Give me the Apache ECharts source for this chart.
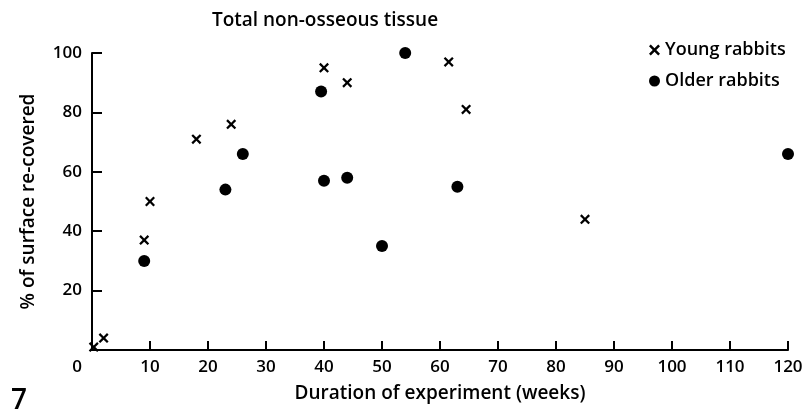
<!DOCTYPE html>
<html lang="en">
<head>
    <meta charset="UTF-8">
    <title>Total non-osseous tissue</title>
    <script src="https://cdn.jsdelivr.net/npm/echarts@6/dist/echarts.min.js"></script>
    <style>
        html, body { margin: 0; padding: 0; background: #fff; }
        #main { width: 809px; height: 412px; }
    </style>
</head>
<body>
<div id="main"></div>
<script type="text/javascript">
    // weeks, % of surface re-covered
    var youngRabbits = [
        [0.3, 1], [2, 4], [9, 37], [10, 50], [18, 71], [24, 76],
        [40, 95], [44, 90], [61.5, 97], [64.5, 81], [85, 44]
    ];
    var olderRabbits = [
        [9, 30], [23, 54], [26, 66], [39.5, 87], [40, 57], [44, 58],
        [50, 35], [54, 100], [63, 55], [120, 66]
    ];
    var xTicks = [0, 10, 20, 30, 40, 50, 60, 70, 80, 90, 100, 110, 120];
    var yTicks = [20, 40, 60, 80, 100];

    var font = 'Open Sans';
    var fw = 600;
    var crossPath = 'path://M0,1.6L1.6,0L5,3.4L8.4,0L10,1.6L6.6,5L10,8.4L8.4,10L5,6.6L1.6,10L0,8.4L3.4,5Z';

    var hidden = { type: 'value', show: false, splitLine: { show: false } };
    // inward ticks: split lines of thin strip grids along each axis
    var tickLine = { show: true, lineStyle: { color: '#000', width: 2, type: 'solid' } };

    var myChart = echarts.init(document.getElementById('main'));
    myChart.setOption({
        backgroundColor: '#fff',
        animation: false,
        textStyle: { fontFamily: font, color: '#000' },
        title: [
            {
                text: 'Total non-osseous tissue',
                left: 320,
                textAlign: 'center',
                top: 6,
                textStyle: { fontFamily: font, fontSize: 19, fontWeight: fw, color: '#000' }
            },
            {
                text: '7',
                left: 6,
                top: 382,
                textStyle: { fontFamily: font, fontSize: 28, fontWeight: fw, color: '#000' }
            }
        ],
        legend: {
            orient: 'vertical',
            left: 644,
            top: 36,
            itemGap: 13,
            itemWidth: 11,
            itemHeight: 11,
            textStyle: { fontFamily: font, fontSize: 18, fontWeight: fw, color: '#000' },
            data: ['Young rabbits', 'Older rabbits']
        },
        grid: [
            { left: 92, right: 21, top: 53, bottom: 62 },
            { left: 92, right: 21, top: 341, bottom: 62 },
            { left: 92, width: 10, top: 53, bottom: 62 }
        ],
        xAxis: [
            {
                type: 'value',
                gridIndex: 0,
                min: 0,
                max: 120,
                interval: 10,
                name: 'Duration of experiment (weeks)',
                nameLocation: 'middle',
                nameGap: 34,
                nameTextStyle: { fontFamily: font, fontSize: 19, fontWeight: fw, color: '#000' },
                axisLine: { show: true, onZero: false, lineStyle: { color: '#000', width: 2 } },
                axisTick: { show: false },
                axisLabel: {
                    show: true,
                    margin: 9,
                    fontFamily: font, fontSize: 17, fontWeight: fw, color: '#000',
                    formatter: function (v) {
                        if (v === 0) return '{z|0}';
                        return xTicks.indexOf(v) >= 0 ? String(v) : '';
                    },
                    rich: { z: { padding: [0, 30, 0, 0], fontFamily: font, fontSize: 17, fontWeight: fw, color: '#000' } }
                },
                splitLine: { show: false }
            },
            {
                type: 'value', gridIndex: 1, min: 0, max: 120, interval: 10,
                axisLine: { show: false }, axisTick: { show: false }, axisLabel: { show: false },
                splitLine: tickLine
            },
            echarts.util.extend({ gridIndex: 2 }, hidden)
        ],
        yAxis: [
            {
                type: 'value',
                gridIndex: 0,
                min: 0,
                max: 100,
                interval: 20,
                name: '% of surface re-covered',
                nameLocation: 'middle',
                nameGap: 54,
                nameRotate: 90,
                nameTextStyle: { fontFamily: font, fontSize: 19, fontWeight: fw, color: '#000' },
                axisLine: { show: true, onZero: false, lineStyle: { color: '#000', width: 2 } },
                axisTick: { show: false },
                axisLabel: {
                    margin: 10,
                    showMinLabel: false,
                    fontFamily: font, fontSize: 17, fontWeight: fw, color: '#000',
                    formatter: function (v) { return yTicks.indexOf(v) >= 0 ? String(v) : ''; }
                },
                splitLine: { show: false }
            },
            echarts.util.extend({ gridIndex: 1 }, hidden),
            {
                type: 'value', gridIndex: 2, min: 0, max: 100, interval: 20,
                axisLine: { show: false }, axisTick: { show: false }, axisLabel: { show: false },
                splitLine: tickLine
            }
        ],
        series: [
            {
                name: 'Young rabbits',
                type: 'scatter',
                symbol: crossPath,
                symbolSize: 10,
                itemStyle: { color: '#000', opacity: 1 },
                data: youngRabbits
            },
            {
                name: 'Older rabbits',
                type: 'scatter',
                symbol: 'circle',
                symbolSize: 12,
                itemStyle: { color: '#000', opacity: 1 },
                data: olderRabbits
            },
            { type: 'scatter', xAxisIndex: 1, yAxisIndex: 1, data: [] },
            { type: 'scatter', xAxisIndex: 2, yAxisIndex: 2, data: [] }
        ]
    });
</script>
</body>
</html>
